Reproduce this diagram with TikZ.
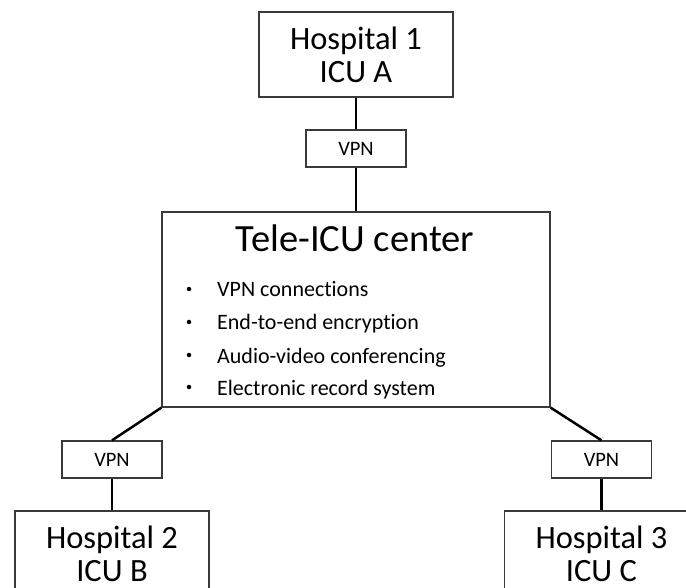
\documentclass[tikz,border=0pt]{standalone}
\usepackage{fontspec}
\setmainfont{Carlito}[Ligatures=NoCommon]
\definecolor{boxgray}{HTML}{3A3A3A}
\begin{document}
\begin{tikzpicture}[x=1pt,y=-1pt,
  box/.style={draw=boxgray, line width=1.3pt, fill=white, inner sep=0pt},
  hosp/.style={box, minimum width=194pt, minimum height=85pt, align=center,
    font=\fontsize{32.5}{33}\selectfont},
  vpnbox/.style={box, minimum width=100pt, minimum height=37pt,
    font=\fontsize{20.5}{24}\selectfont},
  link/.style={line width=2.5pt, black},
  item/.style={anchor=base west, inner sep=0pt, font=\fontsize{22}{26}\selectfont},
  dot/.style={circle, fill=black, inner sep=0pt, minimum size=4.5pt}]
\useasboundingbox (0,0) rectangle (686,588);
\clip (0,0) rectangle (686,588);
% boxes
\node[hosp] (h1) at (356,54.5) {Hospital 1\\ICU A};
\node[vpnbox] (vpn1) at (356,148.5) {VPN};
\node[box, minimum width=388pt, minimum height=195pt] (tele) at (356,309.5) {};
\node[vpnbox] (vpn2) at (112,459.5) {VPN};
\node[vpnbox] (vpn3) at (601.5,459.5) {VPN};
\node[hosp] (h2) at (112,553.5) {Hospital 2\\ICU B};
\node[hosp] (h3) at (601.5,553.5) {Hospital 3\\ICU C};
% content of the centre
\node[anchor=base, inner sep=0pt, font=\fontsize{38.5}{40}\selectfont] (title) at (355,252) {Tele-ICU center};
\node[dot] (b1) at (189,289) {};
\node[dot] (b2) at (189,322) {};
\node[dot] (b3) at (189,355) {};
\node[dot] (b4) at (189,387) {};
\node[item] (i1) at (217,297) {VPN connections};
\node[item] (i2) at (217,330) {End-to-end encryption};
\node[item] (i3) at (217,363) {Audio-video conferencing};
\node[item] (i4) at (217,395) {Electronic record system};
% connectors
\draw[link] (h1.south) -- (vpn1.north);
\draw[link] (vpn1.south) -- (tele.north);
\draw[link] (tele.south west) -- (vpn2.north);
\draw[link] (vpn2.south) -- (h2.north);
\draw[link] (tele.south east) -- (vpn3.north);
\draw[link] (vpn3.south) -- (h3.north);
\end{tikzpicture}
\end{document}
